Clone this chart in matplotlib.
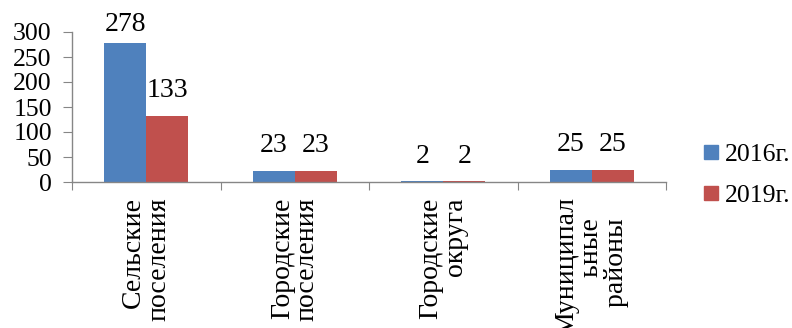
import matplotlib
matplotlib.use("Agg")
import matplotlib.pyplot as plt
from matplotlib.lines import Line2D
import numpy as np

categories = ["Сельские\nпоселения", "Городские\nпоселения", "Городские\nокруга", "Муниципал\nьные   \nрайоны   "]
series_names = ["2016г.", "2019г."]
values_2016 = [278, 23, 2, 25]
values_2019 = [133, 23, 2, 25]
y_ticks = [0, 50, 100, 150, 200, 250, 300]
colors = ["#4F81BD", "#C0504D"]

plt.rcParams['font.family'] = ['Liberation Serif', 'DejaVu Serif']

fig = plt.figure(figsize=(7.92, 3.28), dpi=100)
ax = fig.add_axes([72/792, 1-182/328, (666-72)/792, (182-32)/328])

x = np.arange(len(categories))
w = 0.283
series = [values_2016, values_2019]
vmax = max(max(s) for s in series)
for k, (vals, name, c) in enumerate(zip(series, series_names, colors)):
    pos = x + (k - 0.5) * w
    ax.bar(pos, vals, width=w, color=c, label=name, zorder=2)
    for p, v in zip(pos, vals):
        off = 4 if v == vmax else 9
        ax.annotate(str(v), (p, v), xytext=(0, off), textcoords="offset points",
                    ha="center", va="bottom", fontsize=20)

ax.set_xlim(-0.5, len(categories) - 0.5)
ax.set_ylim(0, 300)
ax.set_yticks(y_ticks)
ax.tick_params(axis='y', labelsize=18.5, length=6.5, color="#868686", pad=8)

ax.set_xticks(np.arange(-0.5, len(categories), 1.0))
ax.set_xticklabels([])
ax.set_xticks(x, minor=True)
ax.set_xticklabels(categories, minor=True, rotation=90, fontsize=20,
                   va="top", ha="center", multialignment="right", linespacing=1.0)
ax.tick_params(axis='x', which='major', length=6, color="#868686")
ax.tick_params(axis='x', which='minor', length=0, pad=11)

for s in ["top", "right"]:
    ax.spines[s].set_visible(False)
for s in ["left", "bottom"]:
    ax.spines[s].set_color("#868686")
    ax.spines[s].set_linewidth(1.0)

handles = [Line2D([0], [0], marker='s', color='none', markerfacecolor=c,
                  markeredgecolor=c, markersize=10) for c in colors]
fig.legend(handles, series_names, loc="center left",
           bbox_to_anchor=(688/792, 1-175/328), frameon=False, fontsize=18.5,
           handlelength=0.8, handletextpad=0.15, labelspacing=0.7, borderpad=0)

fig.savefig("out.png", dpi=100)
